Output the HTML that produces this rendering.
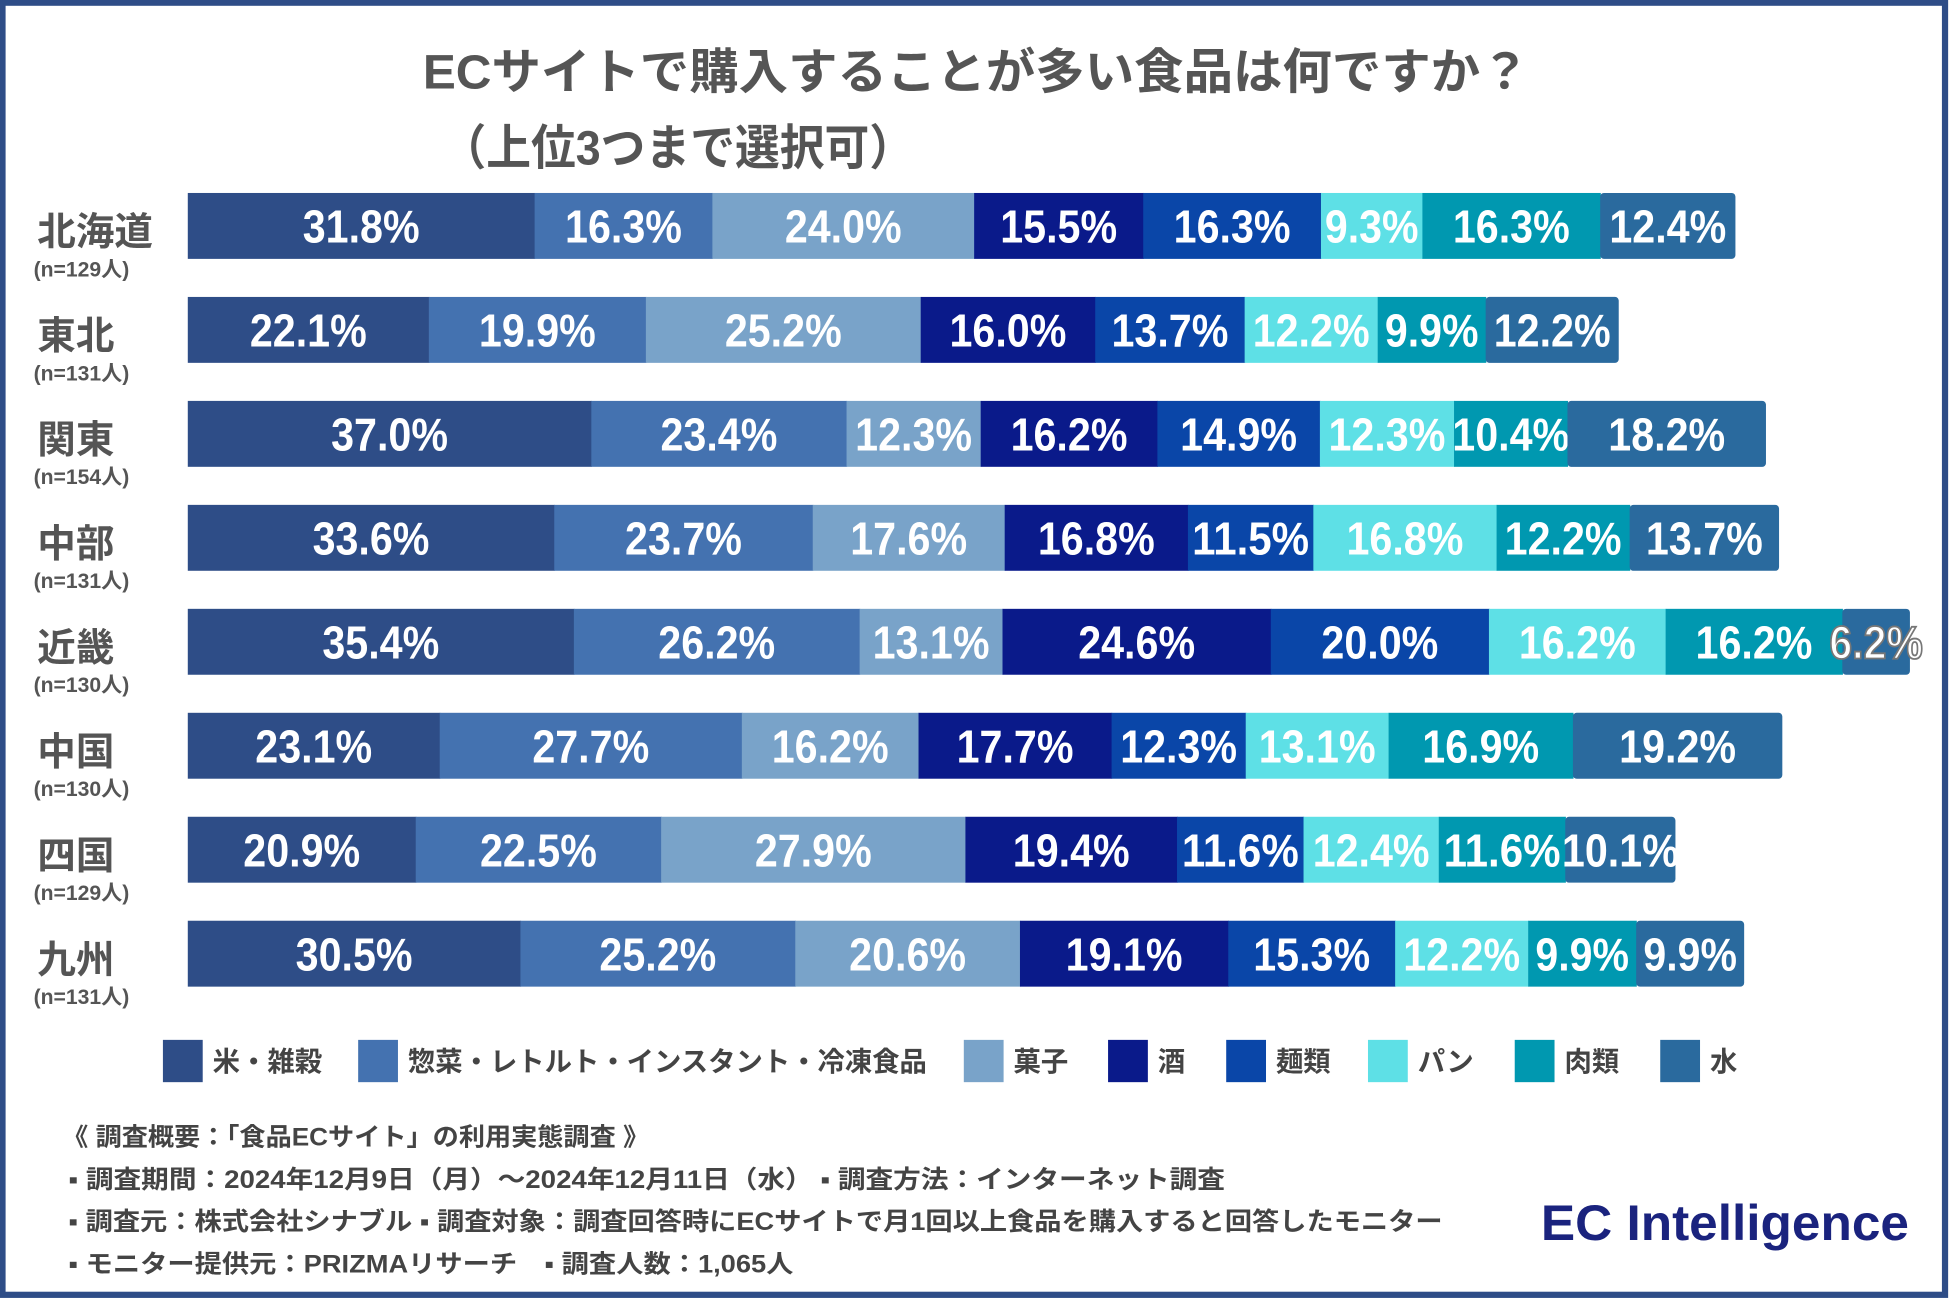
<!DOCTYPE html>
<html><head><meta charset="utf-8">
<style>
html,body{margin:0;padding:0;background:#fff;}
svg{display:block;}
text{font-family:"Liberation Sans","Noto Sans CJK JP",sans-serif;}
.val{font-family:"Liberation Sans Narrow","Liberation Sans","Noto Sans CJK JP",sans-serif;font-weight:bold;font-size:37px;fill:#fff;}
</style></head>
<body>
<svg id="chart" width="1950" height="1300" viewBox="0 0 1568 1045" xmlns="http://www.w3.org/2000/svg">
<rect x="2" y="2" width="1562" height="1039" fill="#fff" stroke="#2e4d87" stroke-width="5"/>
<text x="340" y="71" textLength="890" lengthAdjust="spacingAndGlyphs" font-size="39" font-weight="bold" fill="#555">ECサイトで購入することが多い食品は何ですか？</text>
<text x="355" y="132" textLength="380" lengthAdjust="spacingAndGlyphs" font-size="39" font-weight="bold" fill="#555">（上位3つまで選択可）</text>
<g id="bars"></g>
<g id="legend"></g>
<g font-size="20" font-weight="bold" fill="#444">
<text x="50" y="921" textLength="472" lengthAdjust="spacingAndGlyphs">《 調査概要：「食品ECサイト」の利用実態調査 》</text>
<text x="55" y="955" textLength="930" lengthAdjust="spacingAndGlyphs">▪ 調査期間：2024年12月9日（月）〜2024年12月11日（水） ▪ 調査方法：インターネット調査</text>
<text x="55" y="989" textLength="1105" lengthAdjust="spacingAndGlyphs">▪ 調査元：株式会社シナブル ▪ 調査対象：調査回答時にECサイトで月1回以上食品を購入すると回答したモニター</text>
<text x="55" y="1023" textLength="583" lengthAdjust="spacingAndGlyphs">▪ モニター提供元：PRIZMAリサーチ　▪ 調査人数：1,065人</text>
</g>
<text x="1239" y="997" textLength="296" lengthAdjust="spacingAndGlyphs" font-size="40" fill="#1a237e" font-weight="bold">EC Intelligence</text>
</svg>
<script>
const categories = ["米・雑穀","惣菜・レトルト・インスタント・冷凍食品","菓子","酒","麺類","パン","肉類","水"];
const regions = ["北海道","東北","関東","中部","近畿","中国","四国","九州"];
const sampleSizes = ["(n=129人)","(n=131人)","(n=154人)","(n=131人)","(n=130人)","(n=130人)","(n=129人)","(n=131人)"];
const hokkaido = [31.8,16.3,24.0,15.5,16.3,9.3,16.3,12.4];
const tohoku = [22.1,19.9,25.2,16.0,13.7,12.2,9.9,12.2];
const kanto = [37.0,23.4,12.3,16.2,14.9,12.3,10.4,18.2];
const chubu = [33.6,23.7,17.6,16.8,11.5,16.8,12.2,13.7];
const kinki = [35.4,26.2,13.1,24.6,20.0,16.2,16.2,6.2];
const chugoku = [23.1,27.7,16.2,17.7,12.3,13.1,16.9,19.2];
const shikoku = [20.9,22.5,27.9,19.4,11.6,12.4,11.6,10.1];
const kyushu = [30.5,25.2,20.6,19.1,15.3,12.2,9.9,9.9];
const series = [hokkaido,tohoku,kanto,chubu,kinki,chugoku,shikoku,kyushu];
const colors = ["#2e4d87","#4472b0","#79a3c9","#0a1a8a","#0a46a8","#5ee0e6","#0098b0","#2a6a9e"];

const NS="http://www.w3.org/2000/svg";
const x0=151, pxPer=8.77, barH=53, rowTop=155, rowPitch=83.6;
const xScale=v=>v*pxPer;
const yScale=i=>rowTop+i*rowPitch;
function mk(tag,attrs){const e=document.createElementNS(NS,tag);for(const k in attrs)e.setAttribute(k,attrs[k]);return e;}
const bars=document.getElementById('bars');
series.forEach((vals,i)=>{
  const y=yScale(i);
  const lab=mk('text',{x:30,y:y+42,'font-size':31,'font-weight':'bold',fill:'#555'});
  
  
  lab.textContent=regions[i];bars.appendChild(lab);
  const n=mk('text',{x:27,y:y+67,'font-size':17,'font-weight':'bold',fill:'#555'});
  
  
  n.textContent=sampleSizes[i];bars.appendChild(n);
  let cx=x0;
  vals.forEach((v,j)=>{
    const w=xScale(v);
    const r=mk('rect',{x:cx,y:y,width:w+(j<vals.length-1?0.5:0),height:barH,fill:colors[j],rx:(j===vals.length-1?3:0)});
    
    
    bars.appendChild(r);
    const s=v.toFixed(1)+'%';
    const t=mk('text',{x:cx+w/2,y:y+40,'text-anchor':'middle',class:'val',textLength:s.length*18.8,lengthAdjust:'spacingAndGlyphs'});
    
    
    if(w<60){t.setAttribute('stroke','#777');t.setAttribute('stroke-width','1.5');}
    t.textContent=s;
    bars.appendChild(t);
    cx+=w;
  });
});
const legend=document.getElementById('legend');
const legX=[131,288,775,891,986,1100,1218,1335];
categories.forEach((c,j)=>{
  const g=mk('g',{});
  
  
  g.appendChild(mk('rect',{x:legX[j],y:836,width:32,height:34,fill:colors[j]}));
  const t=mk('text',{x:legX[j]+40,y:861,'font-size':22,'font-weight':'bold',fill:'#444'});
  t.textContent=c;g.appendChild(t);legend.appendChild(g);
});
</script>
</body></html>
